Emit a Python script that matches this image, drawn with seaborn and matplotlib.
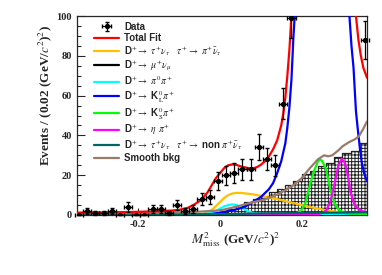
import numpy as np
import pandas as pd
import matplotlib
matplotlib.use("Agg")
import matplotlib.pyplot as plt
from matplotlib.ticker import MultipleLocator
import seaborn as sns

# ---- data ----
data_x = [-0.345, -0.325, -0.305, -0.285, -0.265, -0.245, -0.225, -0.205, -0.185,
          -0.165, -0.145, -0.125, -0.105, -0.085, -0.065, -0.045, -0.025, -0.005,
          0.015, 0.035, 0.055, 0.075, 0.095, 0.115, 0.135, 0.155, 0.175, 0.195,
          0.215, 0.235, 0.255, 0.275, 0.295, 0.315, 0.335, 0.355]
data_y = [0, 2, 1, 1, 2, 0, 4, 0, 0, 3, 3, 1, 5, 2, 3, 8, 9, 17, 20, 21, 23, 23,
          34, 28, 25, 56, 99, 150, 250, 300, 280, 250, 220, 200, 140, 88]
data_err = [0, 1.6, 1.2, 1.2, 1.6, 0, 2.3, 0, 0, 2.0, 2.0, 1.2, 2.6, 1.6, 2.0,
            3.2, 3.4, 4.4, 4.8, 4.9, 5.2, 5.2, 6.5, 5.6, 5.3, 8.0, 10, 12, 16,
            17, 17, 16, 15, 14, 12, 9.6]

hist_edges = [0.0, 0.02, 0.04, 0.06, 0.08, 0.10, 0.12, 0.14, 0.16, 0.18, 0.20,
              0.22, 0.24, 0.26, 0.28, 0.30, 0.32, 0.34, 0.36]
hist_vals = [1.3, 3, 4.7, 6.4, 8, 9.7, 11.4, 13, 15, 17, 20.7, 22, 24.5, 26, 29,
             31, 32, 36]

total_x = [-0.35, -0.30, -0.25, -0.20, -0.15, -0.12, -0.10, -0.08, -0.065, -0.05,
           -0.04, -0.03, -0.02, -0.01, 0.0, 0.01, 0.02, 0.03, 0.04, 0.05, 0.06,
           0.07, 0.08, 0.09, 0.10, 0.11, 0.12, 0.13, 0.14, 0.15, 0.155, 0.16,
           0.165, 0.17, 0.175, 0.18, 0.19, 0.33, 0.333, 0.339, 0.345, 0.351, 0.36]
total_y = [1.2, 1.3, 1.4, 1.6, 1.9, 2.2, 2.6, 3.5, 5, 7, 9, 11.5, 15, 18.5, 21,
           23.5, 25, 25.4, 25.2, 24.5, 24, 23.5, 23.4, 24, 25.2, 27, 29.5, 33,
           37.5, 45, 51, 59, 70, 83, 100, 118, 160, 160, 100, 88, 80, 74, 69]

taupi_x = [-0.35, -0.20, -0.10, -0.04, -0.03, -0.02, -0.01, 0.0, 0.01, 0.02, 0.03,
           0.04, 0.05, 0.06, 0.08, 0.10, 0.12, 0.14, 0.16, 0.18, 0.20, 0.22, 0.24,
           0.26, 0.28, 0.30, 0.32, 0.34, 0.36]
taupi_y = [0.3, 0.3, 0.4, 0.5, 1.2, 2.6, 4.5, 6.5, 8.5, 10, 10.8, 11.1, 11.1, 10.9,
           10.4, 9.6, 8.7, 8, 7, 6, 5, 4, 3.2, 2.4, 1.7, 1.1, 0.6, 0.3, 0.1]

munu_x = [-0.35, -0.02, -0.01, 0.0, 0.01, 0.02, 0.36]
munu_y = [0.1, 0.2, 0.5, 1.0, 0.5, 0.3, 0.1]

pipi_x = [-0.35, -0.05, -0.02, -0.01, 0.0, 0.01, 0.02, 0.03, 0.04, 0.05, 0.06,
          0.07, 0.08, 0.10, 0.20, 0.30, 0.36]
pipi_y = [0.2, 0.3, 1, 2, 3.2, 4.3, 5, 5.3, 5, 4, 2.8, 1.8, 1.1, 0.6, 0.5, 0.6, 0.8]

klpi_x = [-0.35, -0.05, -0.02, 0.0, 0.02, 0.04, 0.06, 0.08, 0.10, 0.12, 0.13, 0.14,
          0.15, 0.155, 0.16, 0.165, 0.17, 0.175, 0.18, 0.183, 0.19, 0.31, 0.317,
          0.322, 0.327, 0.333, 0.339, 0.347, 0.353, 0.36]
klpi_y = [0.2, 0.2, 0.5, 1.2, 2, 2.8, 4, 6.5, 9, 13, 16, 21, 27, 31.5, 36, 44, 54,
          68, 90, 100, 140, 130, 100, 85, 74, 52, 40, 26.5, 21, 17]

kspi_x = [-0.35, 0.18, 0.19, 0.20, 0.21, 0.22, 0.23, 0.24, 0.245, 0.25, 0.26, 0.27,
          0.28, 0.29, 0.30, 0.32, 0.36]
kspi_y = [0.3, 0.5, 1, 2.5, 6.5, 15, 22, 27, 28, 27.2, 23, 13, 6, 2.8, 1.5, 0.8, 0.5]

etapi_x = [-0.35, 0.24, 0.25, 0.26, 0.27, 0.28, 0.285, 0.29, 0.298, 0.305, 0.31,
           0.315, 0.32, 0.33, 0.34, 0.35, 0.36]
etapi_y = [0.3, 0.5, 1, 2.2, 6.5, 15, 20, 25, 28.2, 26.5, 23, 17.5, 11, 5, 2.8,
           1.8, 1.4]

taunon_x = [-0.35, 0.0, 0.10, 0.20, 0.30, 0.36]
taunon_y = [0.2, 0.4, 0.8, 1.0, 1.2, 1.4]

bkg_x = [-0.35, -0.20, -0.10, -0.05, 0.0, 0.02, 0.04, 0.06, 0.08, 0.10, 0.12, 0.14,
         0.16, 0.18, 0.20, 0.22, 0.24, 0.255, 0.265, 0.275, 0.29, 0.30, 0.315,
         0.33, 0.34, 0.35, 0.36]
bkg_y = [0.8, 1.0, 1.3, 1.7, 2.3, 3.2, 4.2, 5.3, 6.4, 7.3, 8.5, 10.3, 12.5, 15,
         18.5, 23.5, 28, 30, 29.5, 30, 32.5, 34.5, 36.5, 38, 39.5, 43, 47]

curves = [
    (taupi_x, taupi_y, "#ffc000", r"D$^{+}$$\rightarrow$ $\tau^{+}\nu_{\tau}$   $\tau^{+}$$\rightarrow$ $\pi^{+}\bar{\nu}_{\tau}$"),
    (munu_x, munu_y, "black", r"D$^{+}$$\rightarrow$ $\mu^{+}\nu_{\mu}$"),
    (pipi_x, pipi_y, "#00ffff", r"D$^{+}$$\rightarrow$ $\pi^{0}\pi^{+}$"),
    (klpi_x, klpi_y, "#0000ff", r"D$^{+}$$\rightarrow$ K$^{0}_{\mathrm{L}}\pi^{+}$"),
    (kspi_x, kspi_y, "#00ff00", r"D$^{+}$$\rightarrow$ K$^{0}_{\mathrm{S}}\pi^{+}$"),
    (etapi_x, etapi_y, "#ff00ff", r"D$^{+}$$\rightarrow$ $\eta$ $\pi^{+}$"),
    (taunon_x, taunon_y, "#00665e", r"D$^{+}$$\rightarrow$ $\tau^{+}\nu_{\tau}$   $\tau^{+}$$\rightarrow$ non $\pi^{+}\bar{\nu}_{\tau}$"),
    (bkg_x, bkg_y, "#9a7a6a", "Smooth bkg"),
]

sns.set_theme(style="ticks")
plt.rcParams["font.family"] = ["Liberation Serif", "DejaVu Serif"]
plt.rcParams["mathtext.fontset"] = "stix"
plt.rcParams["hatch.linewidth"] = 0.7

fig = plt.figure(figsize=(3.82, 2.75), dpi=100)
ax = fig.add_axes([77 / 382, 1 - 215 / 275, 290 / 382, 199 / 275])

# peaking background histogram
sns.histplot(x=[(a + b) / 2 for a, b in zip(hist_edges[:-1], hist_edges[1:])],
             weights=hist_vals, bins=hist_edges, element="step", fill=True,
             facecolor="white", edgecolor="#222222", hatch="+++++", alpha=1,
             linewidth=0.9, ax=ax, zorder=1)

for xs, ys, col, lab in curves:
    sns.lineplot(x=xs, y=ys, color=col, linewidth=1.6, ax=ax, label=lab,
                 legend=False, zorder=3)
sns.lineplot(x=total_x, y=total_y, color="#ff0000", linewidth=1.6, ax=ax,
             label="Total Fit", legend=False, zorder=4)

eb = ax.errorbar(data_x, data_y, yerr=data_err, xerr=0.01, fmt="o", color="black",
                 ms=2.8, elinewidth=0.9, capsize=1.2, zorder=5, label="Data",
                 clip_on=False)
for art in eb.lines[2]:
    art.set_clip_on(True)
eb.lines[0].set_clip_on(True)

ax.set_xlim(-0.35, 0.36)
ax.set_ylim(0, 100)
ax.set_ylabel("")
ax.xaxis.set_major_locator(MultipleLocator(0.2))
ax.xaxis.set_minor_locator(MultipleLocator(0.04))
ax.yaxis.set_major_locator(MultipleLocator(20))
ax.yaxis.set_minor_locator(MultipleLocator(5))
ax.xaxis.set_major_formatter(lambda v, p: "0" if abs(v) < 1e-9 else f"{v:.1f}")
ax.tick_params(axis="both", which="both", direction="in", labelsize=7.5,
               width=0.8, top=False, right=False)
ax.tick_params(axis="y", which="major", length=6)
ax.tick_params(axis="y", which="minor", length=3)
ax.tick_params(axis="x", which="major", length=5)
ax.tick_params(axis="x", which="minor", length=2.5)
for lbl in ax.get_xticklabels() + ax.get_yticklabels():
    lbl.set_fontweight("bold")
for sp in ax.spines.values():
    sp.set_linewidth(0.9)

fig.text(45 / 382, 1 - 95 / 275, r"Events / (0.02 (GeV/$c^{2}$)$^{2}$)",
         rotation=90, ha="center", va="center", fontsize=9.5, fontweight="bold")
fig.text(236 / 382, 1 - 240 / 275, r"$M^{2}_{\mathrm{miss}}$ (GeV/$c^{2}$)$^{2}$",
         ha="center", va="center", fontsize=9.5, fontweight="bold")

h, l = ax.get_legend_handles_labels()
order = [l.index("Data"), l.index("Total Fit")] + [i for i, s in enumerate(l)
                                                    if s not in ("Data", "Total Fit")]
leg = ax.legend([h[i] for i in order], [l[i] for i in order], loc="upper left",
                bbox_to_anchor=(13 / 290, 0.99), frameon=False, handlelength=2.6,
                handletextpad=0.5, labelspacing=0.12, borderaxespad=0,
                prop={"family": ["Liberation Sans", "DejaVu Sans"], "weight": "bold",
                      "size": 7})

fig.savefig("out.png", dpi=100)
